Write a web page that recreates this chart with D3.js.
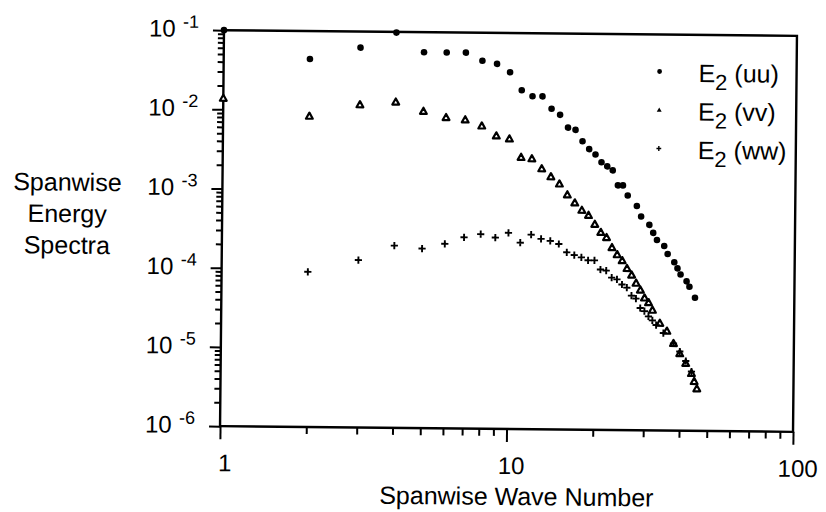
<!DOCTYPE html>
<html>
<head>
<meta charset="utf-8">
<script src="https://cdn.jsdelivr.net/npm/d3@7"></script>
<style>
  body { margin: 0; background: #fff; }
  svg { display: block; font-family: "Liberation Sans", Arial, sans-serif; }
</style>
</head>
<body>
<svg id="chart" width="826" height="512"></svg>
<script>
// spanwise wave numbers and energy for each component
const uuK = [1, 2, 3, 4, 5, 6, 7, 8, 9, 10, 11, 12, 13, 14, 15, 16, 17, 18, 19, 20,
  21, 22, 23, 24, 25, 26, 28, 29, 31, 32, 33, 35, 36, 38, 39, 40, 42, 43, 45];
const uuE = [0.1, 0.0443, 0.0626, 0.098, 0.0558, 0.0558, 0.0558, 0.0443, 0.0406, 0.032,
  0.019, 0.016, 0.016, 0.0112, 0.0094, 0.0065, 0.0061, 0.0044, 0.0035, 0.0030,
  0.0024, 0.00213, 0.0019, 0.00123, 0.00123, 0.00092, 0.00068, 0.0005, 0.000394, 0.000312,
  0.000254, 0.000214, 0.00017, 0.000134, 0.000112, 0.000094, 0.000077, 0.000066, 0.000048];

const vvK = [1, 2, 3, 4, 5, 6, 7, 8, 9, 10, 11, 12, 13, 14, 15, 16, 17, 18, 19, 20,
  21, 22, 23, 24, 25, 26, 27, 28, 29, 30, 31, 32, 34, 36, 38, 40, 42, 44, 45, 46];
const vvE = [0.0138, 0.0084, 0.0119, 0.013, 0.01, 0.0084, 0.0079, 0.00665, 0.005, 0.0046,
  0.0027, 0.0026, 0.00195, 0.00155, 0.00126, 0.00092, 0.00073, 0.00059, 0.00051, 0.000394,
  3.12e-4, 2.69e-4, 2.01e-4, 1.64e-4, 1.38e-4, 1.1e-4, 9.1e-5, 7.2e-5, 5.9e-5, 4.7e-5,
  4.1e-5, 3.3e-5, 2.26e-5, 1.8e-5, 1.26e-5, 9.4e-6, 7.1e-6, 5.3e-6, 4.2e-6, 3.4e-6];

const wwK = [2, 3, 4, 5, 6, 7, 8, 9, 10, 11, 12, 13, 14, 15, 16, 17, 18, 19, 20,
  21, 22, 23, 24, 25, 26, 27, 28, 29, 30, 31, 32, 33, 35, 38, 40, 42, 44];
const wwE = [9.1e-5, 1.3e-4, 2.0e-4, 1.85e-4, 2.14e-4, 2.6e-4, 2.86e-4, 2.6e-4, 3.0e-4, 2.26e-4,
  2.86e-4, 2.54e-4, 2.4e-4, 2.2e-4, 1.73e-4, 1.6e-4, 1.5e-4, 1.38e-4, 1.38e-4,
  1.06e-4, 1.03e-4, 8.4e-5, 8.0e-5, 6.9e-5, 6.3e-5, 5.0e-5, 4.6e-5, 3.5e-5, 3.2e-5,
  2.75e-5, 2.45e-5, 2.14e-5, 1.7e-5, 1.26e-5, 1.0e-5, 7.6e-6, 5.6e-6];

const xTickLabels = ["1", "10", "100"];
const yExponents = ["-1", "-2", "-3", "-4", "-5", "-6"];
const legendNames = ["(uu)", "(vv)", "(ww)"];

const plot = { left: 222, right: 795, top: 33, bottom: 429 };

// the scanned figure sits slightly tilted
const svg = d3.select("#chart").append("g")
  .attr("transform", "rotate(0.57, 508, 231)");

const x = d3.scaleLog().domain([1, 100]).range([plot.left, plot.right]);
const y = d3.scaleLog().domain([1e-6, 1e-1]).range([plot.bottom, plot.top]);

const xMajor = [1, 10, 100];
const xMinor = d3.range(2, 10).concat(d3.range(20, 100, 10));
const yMajor = yExponents.map(e => Math.pow(10, +e));
const yMinor = [];
for (let p = -6; p < -1; p++) for (let m = 2; m <= 9; m++) yMinor.push(m * Math.pow(10, p));

function styleAxis(g) {
  g.select(".domain").remove();
  g.selectAll(".tick line").attr("stroke", "#000").attr("stroke-width", 2);
  g.selectAll(".tick text").remove();
}

// ticks
svg.append("g").attr("transform", `translate(0,${plot.bottom})`)
  .call(d3.axisBottom(x).tickValues(xMinor).tickSize(7).tickFormat(""))
  .call(styleAxis);
svg.append("g").attr("transform", `translate(0,${plot.bottom})`)
  .call(d3.axisBottom(x).tickValues(xMajor).tickSize(13).tickFormat(""))
  .call(styleAxis);
svg.append("g").attr("transform", `translate(${plot.left},0)`)
  .call(d3.axisLeft(y).tickValues(yMinor).tickSize(6).tickFormat(""))
  .call(styleAxis);
svg.append("g").attr("transform", `translate(${plot.left},0)`)
  .call(d3.axisLeft(y).tickValues(yMajor).tickSize(11).tickFormat(""))
  .call(styleAxis);

// frame
svg.append("rect")
  .attr("x", plot.left).attr("y", plot.top)
  .attr("width", plot.right - plot.left).attr("height", plot.bottom - plot.top)
  .attr("fill", "none").attr("stroke", "#000").attr("stroke-width", 2.4);

// x tick labels
svg.append("g").selectAll("text")
  .data(xMajor)
  .join("text")
  .attr("x", d => x(d) + 5)
  .attr("y", plot.bottom + 45)
  .attr("text-anchor", "middle")
  .attr("font-size", 24)
  .text((d, i) => xTickLabels[i]);

// y tick labels 10^n
const yl = svg.append("g").selectAll("g")
  .data(yMajor)
  .join("g")
  .attr("transform", d => `translate(147,${y(d) + 7})`);
yl.append("text").attr("font-size", 24).text("10");
yl.append("text").attr("x", 34).attr("y", -9).attr("font-size", 18)
  .text((d, i) => yExponents[i]);

// axis titles
svg.append("text")
  .attr("x", 519).attr("y", 505)
  .attr("text-anchor", "middle")
  .attr("font-size", 25)
  .text("Spanwise Wave Number");

svg.append("text")
  .attr("text-anchor", "middle")
  .attr("font-size", 25)
  .selectAll("tspan")
  .data(["Spanwise", "Energy", "Spectra"])
  .join("tspan")
  .attr("x", 67)
  .attr("y", (d, i) => 195 + i * 31.5)
  .text(d => d);

// markers
const triPath = s => `M0,${-s}L${s * 0.95},${s * 0.7}L${-s * 0.95},${s * 0.7}Z`;
const crossPath = s => `M${-s},0H${s}M0,${-s}V${s}`;

const pts = (ks, es) => ks.map((k, i) => ({ k, e: es[i] }));

svg.append("g").selectAll("circle")
  .data(pts(uuK, uuE))
  .join("circle")
  .attr("cx", d => x(d.k)).attr("cy", d => y(d.e))
  .attr("r", 3.3).attr("fill", "#000");

svg.append("g").selectAll("path")
  .data(pts(vvK, vvE))
  .join("path")
  .attr("transform", d => `translate(${x(d.k)},${y(d.e)})`)
  .attr("d", triPath(3.6))
  .attr("fill", "#fff").attr("stroke", "#000").attr("stroke-width", 2.2)
  .attr("stroke-linejoin", "round");

svg.append("g").selectAll("path")
  .data(pts(wwK, wwE))
  .join("path")
  .attr("transform", d => `translate(${x(d.k)},${y(d.e)})`)
  .attr("d", crossPath(3.6))
  .attr("fill", "none").attr("stroke", "#000").attr("stroke-width", 1.9);

// legend
const rows = svg.append("g").selectAll("g")
  .data(legendNames)
  .join("g")
  .attr("transform", (d, i) => `translate(658,${70 + i * 38.5})`);
rows.filter((d, i) => i === 0).append("circle").attr("r", 2.4).attr("fill", "#000");
rows.filter((d, i) => i === 1).append("path").attr("d", triPath(2.6)).attr("fill", "#000");
rows.filter((d, i) => i === 2).append("path").attr("d", crossPath(2.4))
  .attr("stroke", "#000").attr("stroke-width", 1.4);
const lt = rows.append("text").attr("x", 39).attr("y", 10).attr("font-size", 25);
lt.append("tspan").text("E");
lt.append("tspan").attr("dy", 8).attr("font-size", 22).text("2");
lt.append("tspan").attr("dy", -8).text(d => " " + d);
</script>
</body>
</html>
